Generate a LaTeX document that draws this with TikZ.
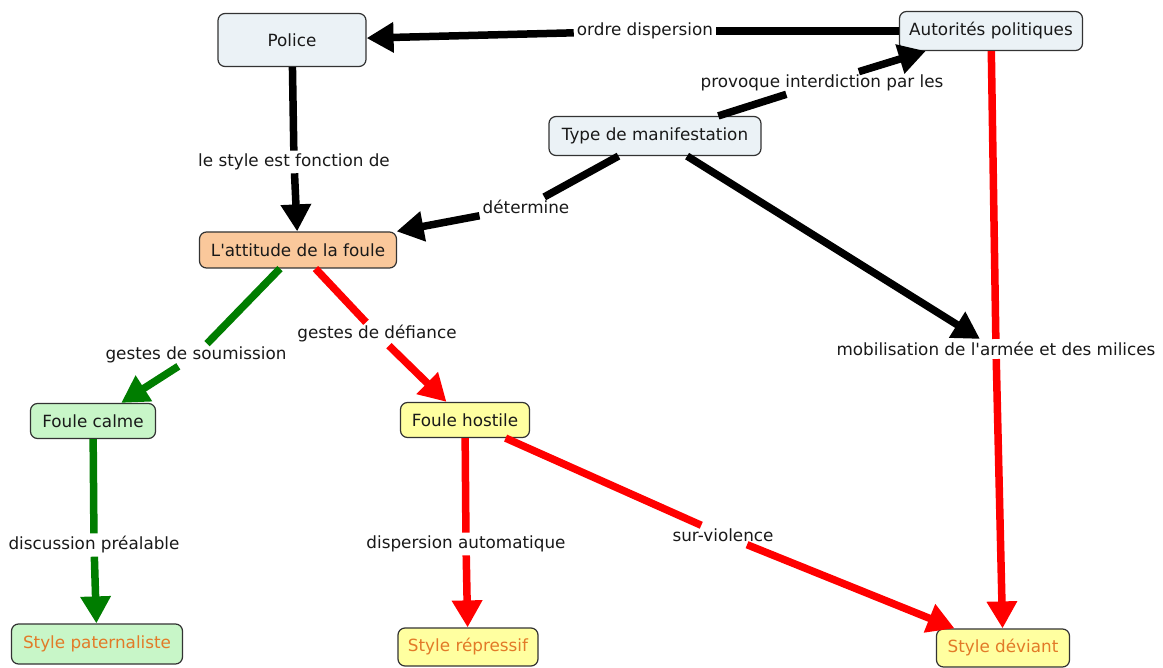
\documentclass[tikz,border=0pt]{standalone}
\usepackage{fontspec}
\setmainfont{DejaVu Sans}[Ligatures=TeXOff]
\usetikzlibrary{arrows.meta}
\definecolor{cblue}{RGB}{235,242,246}
\definecolor{corange}{RGB}{250,200,155}
\definecolor{cgreen}{RGB}{200,246,200}
\definecolor{cyellow}{RGB}{255,255,160}
\definecolor{ctext}{RGB}{25,25,25}
\definecolor{cstyle}{RGB}{226,122,40}
\definecolor{cdgreen}{RGB}{0,125,0}
\definecolor{cred}{RGB}{255,0,0}
\tikzset{
  concept/.style={draw=black!80, line width=1.2pt, rounded corners=7pt,
    align=center, text=ctext, inner sep=0pt, font=\fontsize{16.8}{19}\selectfont},
  bluebox/.style={concept, fill=cblue},
  orangebox/.style={concept, fill=corange},
  greenbox/.style={concept, fill=cgreen},
  yellowbox/.style={concept, fill=cyellow},
  result/.style={text=cstyle},
  linkphrase/.style={text=ctext, inner sep=3pt, font=\fontsize{16.8}{19}\selectfont},
  conn/.style={line width=7.5pt},
  tip/.style={conn, -{Triangle[length=27pt,width=29pt]}},
}
\begin{document}
\begin{tikzpicture}[x=1pt,y=-1pt]
\useasboundingbox[fill=white] (0,0) rectangle (1163,668);

% concepts
\node[bluebox, minimum width=148, minimum height=53] (police) at (292,40) {Police};
\node[bluebox, minimum width=183, minimum height=39] (autorites) at (991,31) {Autorités politiques};
\node[bluebox, minimum width=212, minimum height=39] (type) at (655,136) {Type de manifestation};
\node[orangebox, minimum width=197, minimum height=36] (attitude) at (298,250) {L'attitude de la foule};
\node[greenbox, minimum width=125, minimum height=35] (calme) at (93,421) {Foule calme};
\node[yellowbox, minimum width=129, minimum height=35] (hostile) at (465,420) {Foule hostile};
\node[greenbox, result, minimum width=171, minimum height=40] (paternaliste) at (97,644) {Style paternaliste};
\node[yellowbox, result, minimum width=140, minimum height=38] (repressif) at (468,647) {Style répressif};
\node[yellowbox, result, minimum width=133, minimum height=38] (deviant) at (1003,648) {Style déviant};

% linking phrases
\node[linkphrase] (ordre) at (645,31) {ordre dispersion};
\node[linkphrase] (provoque) at (822,83) {provoque interdiction par les};
\node[linkphrase] (fonction) at (294,162) {le style est fonction de};
\node[linkphrase] (determine) at (526,207) {détermine};
\node[linkphrase] (soumission) at (196,355) {gestes de soumission};
\node[linkphrase] (defiance) at (377,334) {gestes de défiance};
\node[linkphrase] (mobilisation) at (996,349) {mobilisation de l'armée et des milices};
\node[linkphrase] (discussion) at (94,545) {discussion préalable};
\node[linkphrase] (automatique) at (466,544) {dispersion automatique};
\node[linkphrase] (violence) at (723,535) {sur-violence};

% black connectors
\draw[conn] (autorites) -- (ordre);
\draw[tip] (ordre) -- (police);
\draw[conn] (police) -- (fonction);
\draw[tip] (fonction) -- (attitude);
\draw[conn] (type) -- (provoque);
\draw[tip] (provoque) -- (autorites);
\draw[conn] (type) -- (determine);
\draw[tip] (determine) -- (attitude);
\draw[tip] (type) -- (mobilisation);

% green connectors
\draw[conn, cdgreen] (attitude) -- (soumission);
\draw[tip, cdgreen] (soumission) -- (calme);
\draw[conn, cdgreen] (calme) -- (discussion);
\draw[tip, cdgreen] (discussion) -- (paternaliste);

% red connectors
\draw[conn, cred] (attitude) -- (defiance);
\draw[tip, cred] (defiance) -- (hostile);
\draw[conn, cred] (hostile) -- (automatique);
\draw[tip, cred] (automatique) -- (repressif);
\draw[conn, cred] (hostile) -- (violence);
\draw[tip, cred] (violence) -- (deviant);
\draw[conn, cred] (autorites) -- (mobilisation);
\draw[tip, cred] (mobilisation) -- (deviant);
\end{tikzpicture}
\end{document}
